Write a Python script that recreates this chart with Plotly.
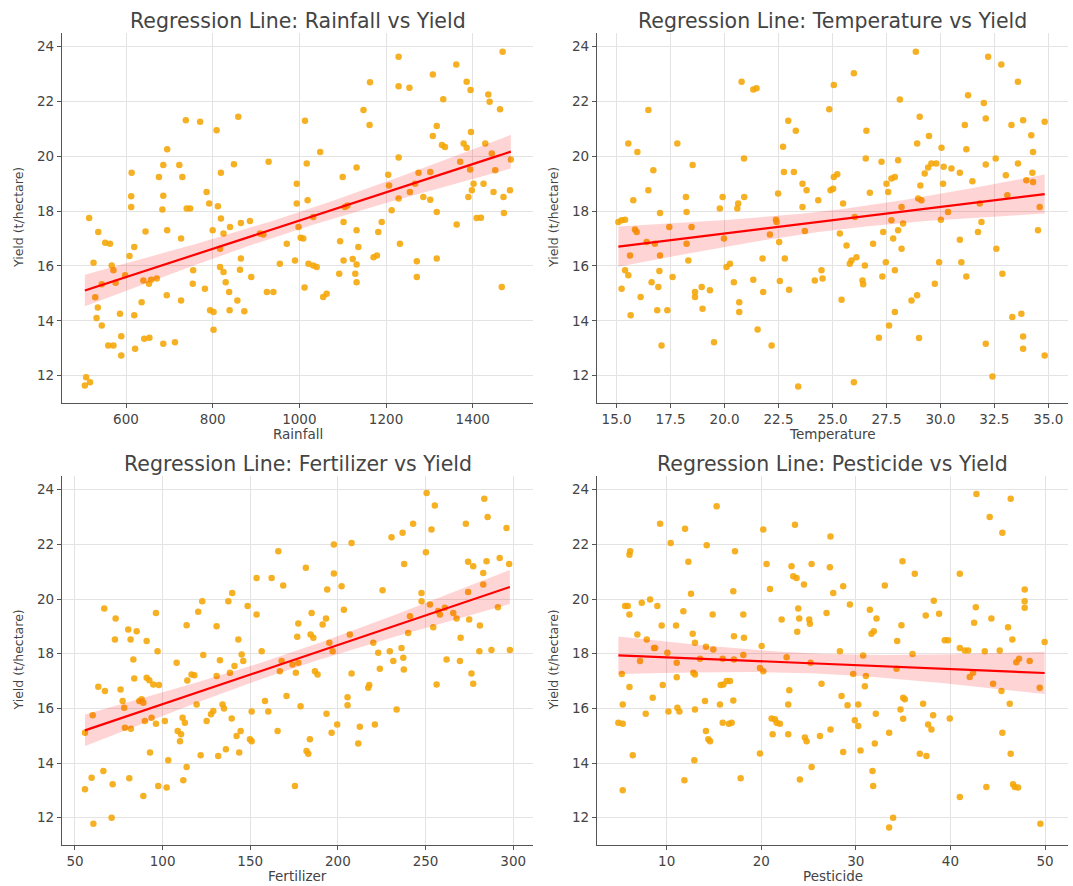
import numpy as np
import plotly.graph_objects as go

# ---------------- data ----------------
rain_x = [515,525,536,529,535,532,544,508,517,505,544,552,563,567,571,576,559,571,589,586,589,598,608,612,612,613,619,619,621,636,642,654,645,640,653,658,671,676,686,686,684,695,695,694,686,713,723,727,730,738,727,740,748,755,754,771,786,792,782,794,802,802,800,812,809,819,819,825,817,817,825,830,840,838,839,849,859,865,865,863,857,873,886,889,909,917,929,925,940,955,971,990,994,994,998,1003,1009,1013,1017,1019,1012,1021,1032,1040,1032,1048,1055,1063,1094,1100,1102,1105,1111,1102,1092,1123,1132,1132,1136,1129,1132,1132,1148,1162,1163,1171,1179,1182,1190,1205,1207,1213,1229,1229,1229,1229,1232,1254,1255,1267,1271,1271,1275,1286,1302,1302,1308,1317,1308,1317,1317,1329,1336,1332,1362,1363,1371,1379,1386,1386,1395,1396,1394,1390,1398,1402,1409,1419,1425,1429,1436,1439,1444,1448,1452,1463,1467,1469,1471,1472,1486,1488]
rain_yield = [17.75,16.12,17.24,14.86,14.48,14.10,13.83,11.94,11.76,11.64,15.33,16.85,16.81,16.02,15.84,15.39,13.10,13.10,12.73,14.26,13.44,15.66,16.36,18.15,18.54,19.40,16.69,14.20,12.98,14.68,13.34,13.38,17.26,15.47,15.35,15.50,15.54,19.25,19.68,18.56,18.06,20.26,17.30,14.93,13.16,13.22,19.68,17.00,19.25,21.32,14.74,18.10,18.10,15.84,15.35,21.26,18.70,18.28,15.17,14.38,14.32,13.67,17.30,18.18,20.95,19.40,17.73,17.18,16.63,15.96,15.78,15.41,17.42,15.05,14.38,19.71,21.44,17.57,16.27,15.86,14.74,14.35,17.64,15.60,17.18,17.15,19.80,15.05,15.05,16.08,16.81,16.20,19.00,18.28,17.42,17.03,17.00,21.30,19.74,18.40,15.21,16.08,16.02,15.96,17.79,20.16,14.87,14.99,16.90,19.25,17.60,18.15,18.21,16.20,15.72,16.25,17.30,19.59,16.69,15.72,15.41,16.05,21.69,21.14,22.70,16.32,16.38,17.24,17.60,19.33,18.94,18.03,23.63,22.56,19.96,18.46,16.81,22.50,18.70,19.00,16.17,15.60,19.40,18.52,18.42,19.43,22.99,21.11,20.74,17.97,16.27,20.41,20.34,22.08,23.35,17.51,19.80,20.47,20.31,22.72,22.42,20.89,19.52,18.52,18.76,19.00,17.75,17.76,19.00,20.47,22.26,21.99,20.10,18.70,19.49,21.72,15.23,23.82,18.52,17.93,18.76,19.88]

temp_x = [15.08,15.23,15.39,15.23,15.39,15.54,15.54,15.62,15.65,15.77,15.85,15.96,15.93,16.11,16.39,16.47,16.47,16.62,16.70,16.77,16.93,17.01,17.01,16.98,16.88,17.08,17.35,17.44,17.59,17.81,18.21,18.24,18.24,18.32,18.47,18.52,18.63,18.63,18.94,18.98,19.32,19.51,19.78,19.91,19.97,20.09,20.25,20.43,20.59,20.63,20.68,20.68,20.79,20.90,20.91,21.33,21.33,21.48,21.53,21.79,21.76,22.10,22.18,22.38,22.41,22.48,22.53,22.56,22.71,22.75,22.79,22.95,22.99,23.21,23.30,23.41,23.61,23.61,23.80,23.72,24.18,24.34,24.49,24.54,24.85,24.91,25.03,25.06,25.06,25.22,25.34,25.49,25.65,25.42,25.80,25.88,26.03,25.99,25.99,26.11,26.39,26.42,26.50,26.54,26.57,26.73,26.88,27.15,27.27,27.31,27.35,27.47,27.50,27.58,27.62,27.73,27.73,27.81,27.89,27.89,28.04,28.04,28.12,28.20,28.20,28.27,27.89,28.66,28.86,28.92,28.92,28.97,29.01,29.04,29.07,29.12,29.27,29.43,29.47,29.58,29.74,29.81,29.94,30.02,30.05,30.12,30.15,30.35,30.51,30.90,30.90,30.97,31.13,31.20,31.20,31.28,31.48,31.74,31.82,31.90,32.01,32.10,32.10,32.10,32.21,32.41,32.56,32.59,32.82,32.87,33.03,33.10,33.29,33.33,33.59,33.59,33.75,33.83,33.83,33.83,33.98,34.21,34.29,34.26,34.29,34.52,34.60,34.83,34.83]
temp_yield = [17.60,17.67,17.69,15.17,15.84,15.66,20.47,16.38,14.20,18.40,17.33,20.16,17.24,14.87,16.87,21.69,18.76,15.41,19.49,16.81,15.23,17.93,16.38,15.82,14.38,13.10,14.38,17.42,15.60,20.47,18.52,17.97,16.81,16.20,17.42,19.68,14.87,15.05,15.23,14.44,15.11,13.22,18.10,18.52,17.00,15.96,16.08,15.41,18.10,18.28,14.68,14.32,22.72,19.92,18.52,15.50,22.44,22.48,13.68,15.05,16.27,17.15,13.10,17.69,17.60,18.64,16.87,15.45,20.35,19.43,16.27,21.30,15.13,19.43,20.93,11.60,19.00,18.15,18.76,17.28,15.47,18.40,15.84,15.54,21.72,18.76,18.82,22.60,19.25,19.35,17.18,18.28,16.75,14.77,16.08,16.20,17.79,23.03,11.76,16.32,15.47,15.33,16.02,19.92,20.93,18.67,16.81,13.38,19.80,15.62,17.24,16.14,19.00,18.70,13.83,19.19,17.67,17.00,19.25,15.84,19.86,17.30,22.07,18.15,16.63,17.55,14.32,14.74,23.82,14.93,20.47,18.46,13.37,21.44,18.94,18.40,19.37,19.59,20.74,19.74,15.35,19.74,16.14,17.69,20.31,19.00,19.62,17.97,19.56,19.40,16.96,16.14,21.14,20.26,15.62,22.23,19.09,17.24,18.28,17.60,21.95,21.38,19.70,13.16,23.63,11.97,19.92,16.63,23.35,15.72,19.31,18.58,21.14,14.14,22.72,19.74,14.26,21.32,13.43,12.98,19.13,20.77,20.16,19.40,19.06,17.30,18.15,21.26,12.73]

fert_x = [55.7,55.7,59.5,60.1,60.5,63.3,66.2,66.7,67.1,70.9,71.5,72.8,73.2,76.0,77.2,78.1,78.5,80.4,81.0,81.7,81.9,83.3,83.8,85.2,86.7,88.0,89.0,89.0,89.9,90.9,90.9,92.4,92.8,93.7,94.7,96.2,96.2,97.1,97.5,97.9,101.3,102.3,103.2,108.0,108.6,109.9,110.5,111.4,111.8,112.7,113.7,113.7,114.1,116.5,118.1,119.4,120.3,121.7,122.6,123.2,125.1,127.6,128.9,130.8,130.8,131.7,132.7,134.2,135.0,136.1,137.5,138.4,139.7,139.4,141.0,142.2,143.2,143.7,145.1,144.5,146.0,148.5,149.8,150.8,150.8,153.6,153.6,156.5,158.4,160.3,162.2,165.6,166.0,166.9,167.9,168.8,170.7,174.1,175.5,176.0,176.8,177.4,177.4,178.7,181.7,182.1,183.1,184.0,184.4,185.0,186.0,186.9,188.4,191.3,193.2,193.5,193.9,195.1,196.4,197.0,197.7,197.7,199.6,202.1,203.4,205.5,205.5,206.8,207.8,207.8,211.6,212.5,217.3,217.9,221.1,220.2,223.0,223.9,225.5,229.6,230.6,231.6,233.5,236.3,236.9,237.3,237.6,237.8,240.1,241.1,242.9,247.7,247.7,250.2,250.6,252.5,253.4,254.4,255.3,256.3,257.2,258.2,261.0,262.0,265.8,267.7,270.0,269.6,273.0,274.3,274.3,274.9,276.2,277.2,277.2,280.7,281.0,282.9,282.9,283.5,284.8,285.4,287.6,291.3,292.3,296.2,297.7,298.1]
fert_yield = [13.04,15.11,13.46,15.75,11.78,16.79,13.71,19.65,16.63,12.00,13.22,18.52,19.29,16.69,16.27,16.02,15.29,18.88,13.44,18.52,15.25,17.79,17.09,18.82,16.27,16.33,16.20,12.79,15.54,17.12,18.46,17.03,14.38,15.66,16.87,19.49,15.44,18.09,13.16,16.85,15.54,13.10,14.10,17.67,15.17,14.80,15.05,15.66,13.37,15.47,13.85,19.04,17.02,17.24,17.21,16.14,19.53,14.28,19.92,17.95,15.54,15.78,15.90,19.00,17.18,14.26,17.76,16.14,15.99,14.50,19.92,17.30,20.22,15.63,17.55,14.99,18.52,14.38,17.97,15.17,17.73,19.74,14.87,15.88,14.80,20.77,19.43,18.09,16.27,15.88,20.77,15.17,21.75,17.36,17.73,20.49,16.45,17.60,13.16,17.30,18.62,19.10,17.67,16.08,21.14,14.44,14.34,14.87,18.70,19.49,18.58,17.36,17.24,19.07,19.29,15.80,20.35,18.40,15.11,18.09,21.99,20.93,15.41,20.47,19.61,16.41,16.11,18.70,22.05,17.27,14.71,15.33,16.75,16.85,15.41,18.40,18.03,17.45,20.32,18.09,22.26,17.73,15.96,18.21,22.42,17.85,17.42,21.28,18.76,19.37,22.75,20.22,19.92,21.71,23.88,19.80,22.54,18.97,23.42,16.87,19.56,19.43,19.68,17.79,19.49,19.29,18.58,17.73,22.75,21.36,20.26,19.25,17.27,21.20,16.90,18.09,19.03,20.95,20.53,23.67,21.38,23.00,18.13,19.70,21.50,22.60,21.28,18.13]

pest_x = [4.89,5.35,5.25,5.35,5.35,5.60,5.88,6.06,6.13,6.06,6.06,6.41,6.90,7.18,7.36,7.78,7.89,8.24,8.52,8.66,8.77,9.01,9.30,9.47,9.58,10.07,10.18,10.42,10.99,11.06,11.06,11.13,11.34,11.76,11.87,11.94,12.29,12.57,12.75,12.82,12.92,12.99,12.99,12.99,13.52,14.05,14.15,14.15,14.23,14.40,14.58,14.86,14.93,15.28,15.63,15.70,15.92,15.92,15.99,16.34,16.58,16.69,16.87,17.04,17.04,17.11,17.11,17.22,17.82,18.10,18.17,18.10,19.86,19.86,20.04,20.21,20.21,20.56,20.92,21.09,21.20,21.44,21.62,21.97,22.15,22.68,22.85,22.85,22.96,23.20,23.38,23.56,23.73,23.80,23.91,24.01,24.08,24.51,24.61,24.79,25.07,25.14,25.21,25.32,25.32,26.20,26.37,26.90,27.32,27.25,27.32,27.61,28.31,28.49,28.66,28.66,29.12,29.37,29.72,29.89,30.25,30.25,30.49,30.77,30.95,31.06,31.48,31.65,31.76,31.90,31.83,32.00,32.11,32.18,33.06,33.52,33.52,33.94,34.30,34.37,34.72,34.82,34.93,35.00,35.00,35.18,35.99,36.23,36.76,37.11,37.39,37.46,37.64,37.99,38.17,38.24,38.80,39.40,39.75,39.93,40.99,40.99,40.99,41.51,41.87,42.04,42.39,42.50,42.75,42.68,43.63,43.80,44.15,44.33,44.51,45.21,45.39,45.49,45.49,46.09,46.27,46.37,46.37,46.55,46.62,46.80,47.15,46.97,47.25,47.85,47.85,47.85,48.38,49.44,49.51,49.96]
pest_yield = [15.47,15.44,17.26,16.14,13.00,19.74,19.74,21.62,21.75,19.43,16.78,14.28,18.70,17.73,19.86,15.80,18.52,19.98,16.39,18.21,18.21,19.74,22.75,19.03,16.85,18.03,15.88,22.05,19.03,17.67,17.14,16.02,15.88,19.55,13.37,22.57,21.36,20.19,18.73,17.30,14.10,15.96,18.40,17.24,17.81,16.27,18.25,15.17,21.97,14.87,14.80,19.43,18.15,23.39,16.14,16.85,17.81,15.47,16.87,17.00,15.44,17.00,15.47,16.29,20.28,18.64,17.79,21.75,13.44,19.43,18.58,17.95,14.35,17.48,18.28,17.36,22.54,21.28,20.37,15.63,15.05,15.60,15.47,15.44,19.25,17.87,15.05,16.14,16.66,21.20,20.83,22.72,20.77,18.80,19.65,19.29,13.40,20.53,14.93,14.80,19.25,19.09,17.67,21.28,13.85,14.99,16.90,19.49,22.29,21.16,15.23,20.22,18.09,16.45,14.40,20.47,16.11,19.80,17.26,15.56,16.14,15.35,14.46,17.93,16.81,17.18,19.61,18.73,13.71,18.82,13.16,14.71,15.80,19.29,20.49,11.64,15.11,12.00,17.45,18.46,15.96,19.04,21.38,16.39,15.62,16.33,17.99,20.92,14.34,16.17,19.40,14.26,15.41,15.23,15.75,19.94,19.46,18.49,18.49,15.63,20.92,18.21,12.76,18.12,18.12,17.15,17.30,19.13,23.84,19.70,18.09,13.12,23.00,19.29,16.90,18.12,16.63,22.42,15.11,18.97,16.17,14.34,23.67,18.52,13.22,13.12,13.10,17.69,17.81,20.35,19.92,19.68,17.73,16.75,11.78,18.43]

titles = ["Regression Line: Rainfall vs Yield", "Regression Line: Temperature vs Yield",
          "Regression Line: Fertilizer vs Yield", "Regression Line: Pesticide vs Yield"]
x_labels = ["Rainfall", "Temperature", "Fertilizer", "Pesticide"]
y_label = "Yield (t/hectare)"
x_ticks = [[600, 800, 1000, 1200, 1400],
           [15.0, 17.5, 20.0, 22.5, 25.0, 27.5, 30.0, 32.5, 35.0],
           [50, 100, 150, 200, 250, 300],
           [10, 20, 30, 40, 50]]
x_tick_text = [["600", "800", "1000", "1200", "1400"],
               ["15.0", "17.5", "20.0", "22.5", "25.0", "27.5", "30.0", "32.5", "35.0"],
               ["50", "100", "150", "200", "250", "300"],
               ["10", "20", "30", "40", "50"]]
y_ticks = [12, 14, 16, 18, 20, 22, 24]

# ---------------- layout geometry ----------------
W, H = 1073, 886
col_px = [(62, 533), (597, 1068)]
row_px = [(33, 403), (476, 845)]
x_ranges = [[452.3, 1539.1], [14.09, 35.91], [42.6, 311.3], [2.63, 52.43]]
y_range = [11.0, 24.5]

FONT = "DejaVu Sans"
TXT = "#444444"
series = [(rain_x, rain_yield), (temp_x, temp_yield), (fert_x, fert_yield), (pest_x, pest_yield)]


def regression(x, y):
    x = np.asarray(x, float)
    y = np.asarray(y, float)
    n = len(x)
    b1, b0 = np.polyfit(x, y, 1)
    xs = np.linspace(x.min(), x.max(), 100)
    yh = b0 + b1 * xs
    resid = y - (b0 + b1 * x)
    s = np.sqrt(np.sum(resid ** 2) / (n - 2))
    xm = x.mean()
    sxx = np.sum((x - xm) ** 2)
    se = s * np.sqrt(1.0 / n + (xs - xm) ** 2 / sxx)
    t = 1.972
    return xs, yh, yh - t * se, yh + t * se


fig = go.Figure()
annotations = []
for i, (xv, yv) in enumerate(series):
    r, c = divmod(i, 2)
    ax = "" if i == 0 else str(i + 1)
    xref, yref = "x" + ax, "y" + ax
    fig.add_trace(go.Scatter(x=xv, y=yv, mode="markers", xaxis=xref, yaxis=yref,
                             marker=dict(color="rgba(245,165,5,0.88)", size=6.5, line=dict(width=0)),
                             showlegend=False, hoverinfo="skip"))
    xs, yh, lo, hi = regression(xv, yv)
    fig.add_trace(go.Scatter(x=np.concatenate([xs, xs[::-1]]), y=np.concatenate([hi, lo[::-1]]),
                             mode="lines", fill="toself", fillcolor="rgba(255,0,0,0.17)",
                             line=dict(width=0), xaxis=xref, yaxis=yref, showlegend=False,
                             hoverinfo="skip"))
    fig.add_trace(go.Scatter(x=xs, y=yh, mode="lines", line=dict(color="#ff0000", width=2.2),
                             xaxis=xref, yaxis=yref, showlegend=False, hoverinfo="skip"))

    x0, x1 = col_px[c]
    y0, y1 = row_px[r]
    common = dict(showgrid=True, gridcolor="#e3e3e3", gridwidth=1, zeroline=False,
                  showline=True, linecolor="#555555", linewidth=1.4, ticks="outside",
                  ticklen=4, tickcolor="#555555", tickwidth=1,
                  tickfont=dict(family=FONT, size=13.5, color=TXT), mirror=False)
    fig.layout["xaxis" + ax] = dict(domain=[x0 / W, x1 / W], range=x_ranges[i],
                                    anchor=yref, tickvals=x_ticks[i], ticktext=x_tick_text[i],
                                    **common)
    fig.layout["yaxis" + ax] = dict(domain=[1 - y1 / H, 1 - y0 / H], range=y_range,
                                    anchor=xref, tickvals=y_ticks, **common)
    cx = (x0 + x1) / 2 / W
    annotations.append(dict(text=titles[i], x=cx, y=1 - (y0 - 12) / H, xref="paper", yref="paper",
                            xanchor="center", yanchor="middle", showarrow=False,
                            font=dict(family=FONT, size=20.5, color=TXT)))
    annotations.append(dict(text=x_labels[i], x=cx, y=1 - (y1 + 31) / H, xref="paper", yref="paper",
                            xanchor="center", yanchor="middle", showarrow=False,
                            font=dict(family=FONT, size=13.5, color=TXT)))
    annotations.append(dict(text=y_label, x=(x0 - 44) / W, y=1 - (y0 + y1) / 2 / H, xref="paper",
                            yref="paper", xanchor="center", yanchor="middle", showarrow=False,
                            textangle=-90, font=dict(family=FONT, size=12.5, color=TXT)))

fig.update_layout(width=W, height=H, margin=dict(l=0, r=0, t=0, b=0),
                  paper_bgcolor="white", plot_bgcolor="white", annotations=annotations,
                  font=dict(family=FONT))
fig.write_html("out.html", config={"displayModeBar": False},
               post_script="document.body.style.margin='0px';")
